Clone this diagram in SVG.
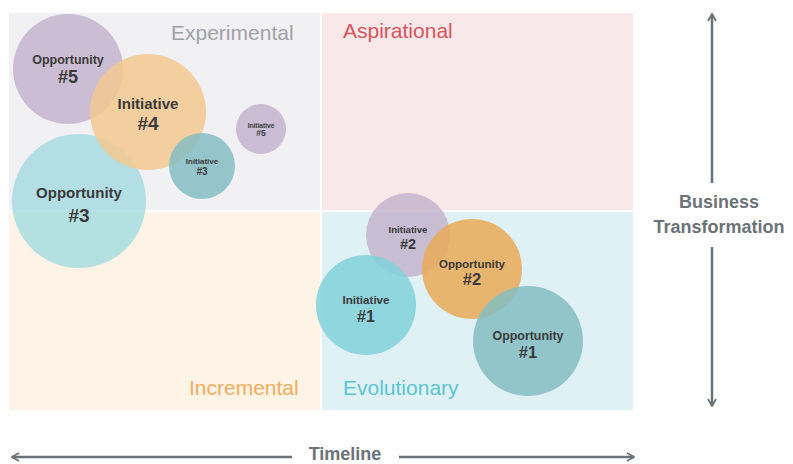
<svg xmlns="http://www.w3.org/2000/svg" width="793" height="464" viewBox="0 0 793 464">
<style>
.ql{font-family:"Liberation Sans",Arial,sans-serif;font-size:21px}
.lb{font-family:"Liberation Sans",Arial,sans-serif;font-weight:bold;fill:#3a3a3a;text-anchor:middle}
.ax{font-family:"Liberation Sans",Arial,sans-serif;font-weight:bold;font-size:18px;fill:#6b7278;text-anchor:middle}
.c{fill-opacity:0.85}
.pur{fill:#c4b4cd}
.orl{fill:#f3c991}
.ord{fill:#e9aa56}
.tea{fill:#84bdc2}
.cya{fill:#81d1db}
.lcy{fill:#a8dce1}
.axl{stroke:#6b7278;stroke-width:2.5;fill:none}
</style>
<defs>
<marker id="ah" viewBox="0 0 10 10" refX="9" refY="5" markerWidth="4" markerHeight="4" orient="auto-start-reverse" markerUnits="strokeWidth">
<path d="M2,1 L9,5 L2,9" fill="none" stroke="#6b7278" stroke-width="1.8"/>
</marker>
</defs>
<rect width="793" height="464" fill="#ffffff"/>
<g id="quadrants">
<rect x="9" y="13" width="311" height="197" fill="#f1f1f4"/>
<rect x="322" y="13" width="311" height="197" fill="#f9e8ea"/>
<rect x="9" y="212" width="311" height="198" fill="#fdf3e6"/>
<rect x="322" y="212" width="311" height="198" fill="#e0f1f5"/>
<text class="ql" x="171" y="40" fill="#a0a1a5">Experimental</text>
<text class="ql" x="343" y="38" fill="#d9545c">Aspirational</text>
<text class="ql" x="189" y="395" fill="#f3ad5f">Incremental</text>
<text class="ql" x="343" y="395" fill="#5bc5d3">Evolutionary</text>
</g>
<g id="opp5"><circle class="c pur" cx="68" cy="69" r="55"/>
<text class="lb" x="68" y="64" font-size="12.5">Opportunity</text><text class="lb" x="68" y="83" font-size="18">#5</text></g>
<g id="opp3"><circle class="c lcy" cx="79" cy="201" r="67"/>
<text class="lb" x="79" y="198" font-size="15">Opportunity</text><text class="lb" x="79" y="222" font-size="19">#3</text></g>
<g id="init4"><circle class="c orl" cx="148" cy="112" r="58"/>
<text class="lb" x="148" y="109" font-size="15">Initiative</text><text class="lb" x="148" y="130" font-size="19">#4</text></g>
<g id="init3"><circle class="c tea" cx="202" cy="166" r="33"/>
<text class="lb" x="202" y="164" font-size="8">Initiative</text><text class="lb" x="202" y="175" font-size="10">#3</text></g>
<g id="init5"><circle class="c pur" cx="261" cy="129" r="25"/>
<text class="lb" x="261" y="128" font-size="6.6">Initiative</text><text class="lb" x="261" y="136" font-size="8.5">#5</text></g>
<g id="init2"><circle class="c pur" cx="408" cy="235" r="42"/>
<text class="lb" x="408" y="233" font-size="9.6">Initiative</text><text class="lb" x="408" y="249" font-size="14.5">#2</text></g>
<g id="init1"><circle class="c cya" cx="366" cy="305" r="50"/>
<text class="lb" x="366" y="304" font-size="11.6">Initiative</text><text class="lb" x="366" y="322" font-size="16">#1</text></g>
<g id="opp2"><circle class="c ord" cx="472" cy="269" r="50"/>
<text class="lb" x="472" y="268" font-size="11.5">Opportunity</text><text class="lb" x="472" y="285" font-size="16.5">#2</text></g>
<g id="opp1"><circle class="c tea" cx="528" cy="341" r="55"/>
<text class="lb" x="528" y="340" font-size="12.4">Opportunity</text><text class="lb" x="528" y="358" font-size="16.5">#1</text></g>
<g id="connectors">
<line class="axl" x1="712" y1="183" x2="712" y2="14" marker-end="url(#ah)"/>
<line class="axl" x1="712" y1="247" x2="712" y2="406" marker-end="url(#ah)"/>
<line class="axl" x1="292" y1="457" x2="12" y2="457" marker-end="url(#ah)"/>
<line class="axl" x1="399" y1="457" x2="634" y2="457" marker-end="url(#ah)"/>
</g>
<g id="axis-labels">
<text class="ax" x="719" y="208">Business</text>
<text class="ax" x="719" y="233">Transformation</text>
<text class="ax" x="345" y="460" font-size="17.5">Timeline</text>
</g>
</svg>
